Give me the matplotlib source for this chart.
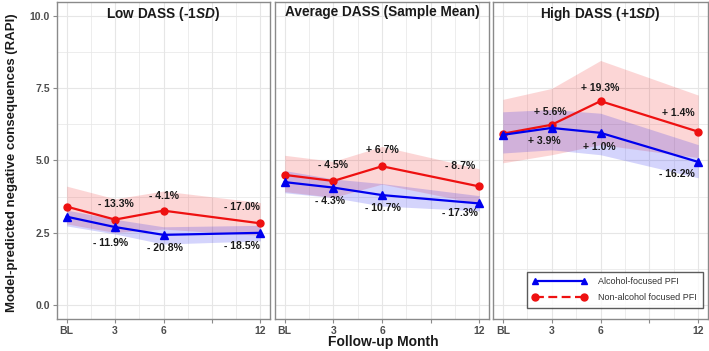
import matplotlib.pyplot as plt
from matplotlib.lines import Line2D

plt.rcParams['font.family'] = ['Liberation Sans', 'DejaVu Sans']
plt.rcParams['mathtext.fontset'] = 'custom'
plt.rcParams['mathtext.it'] = 'Liberation Sans:italic:bold'
plt.rcParams['mathtext.rm'] = 'Liberation Sans:bold'

# data
months = [0, 3, 6, 12]
tick_pos = [0, 3, 6, 9, 12]
tick_labels = ["BL", "3", "6", "", "12"]
titles = ["Low DASS (-1$\\mathit{SD}$)", "Average DASS (Sample Mean)", "High DASS (+1$\\mathit{SD}$)"]

alc_low = [3.05, 2.69, 2.42, 2.49]
alc_avg = [4.25, 4.06, 3.80, 3.51]
alc_high = [5.89, 6.13, 5.96, 4.95]
non_low = [3.40, 2.95, 3.26, 2.82]
non_avg = [4.50, 4.29, 4.80, 4.10]
non_high = [5.93, 6.24, 7.06, 6.00]

alc_low_ci = ([2.73, 2.45, 2.10, 2.21], [3.28, 2.96, 2.70, 2.75])
alc_avg_ci = ([3.88, 3.71, 3.42, 3.25], [4.65, 4.36, 4.20, 3.78])
alc_high_ci = ([5.26, 5.37, 5.20, 4.40], [6.69, 6.77, 6.64, 5.55])
non_low_ci = ([2.80, 2.50, 2.62, 2.40], [4.11, 3.67, 3.94, 3.54])
non_avg_ci = ([3.92, 3.72, 4.18, 3.50], [5.18, 4.97, 5.49, 4.71])
non_high_ci = ([4.92, 5.20, 5.55, 5.10], [7.12, 7.50, 8.47, 7.27])

alc_pct_low = ["- 11.9%", "- 20.8%", "- 18.5%"]
alc_pct_avg = ["- 4.3%", "- 10.7%", "- 17.3%"]
alc_pct_high = ["+ 3.9%", "+ 1.0%", "- 16.2%"]
non_pct_low = ["- 13.3%", "- 4.1%", "- 17.0%"]
non_pct_avg = ["- 4.5%", "+ 6.7%", "- 8.7%"]
non_pct_high = ["+ 5.6%", "+ 19.3%", "+ 1.4%"]

# label placement (x in months, y offset from the point)
alc_x = [[2.72, 6.09, 10.88], [2.8, 6.05, 10.78], [2.58, 5.93, 10.7]]
alc_dy = [[-0.55, -0.47, -0.45], [-0.46, -0.46, -0.34], [-0.46, -0.48, -0.43]]
non_x = [[3.06, 6.05, 10.88], [2.97, 6.05, 10.84], [2.89, 5.97, 10.8]]
non_dy = [[0.53, 0.51, 0.55], [0.55, 0.55, 0.71], [0.44, 0.44, 0.64]]

alc = [alc_low, alc_avg, alc_high]
non = [non_low, non_avg, non_high]
alc_ci = [alc_low_ci, alc_avg_ci, alc_high_ci]
non_ci = [non_low_ci, non_avg_ci, non_high_ci]
alc_pct = [alc_pct_low, alc_pct_avg, alc_pct_high]
non_pct = [non_pct_low, non_pct_avg, non_pct_high]

blue = "#0000ee"
red = "#ee1111"
grid_c = "#e6e6e6"
tick_c = "#4d4d4d"

fig = plt.figure(figsize=(7.09, 3.51), dpi=100)
lefts = [57, 275, 493]
widths = [213, 214, 215]
axes = []
for i in range(3):
    ax = fig.add_axes([lefts[i] / 709, 32 / 351, widths[i] / 709, 317 / 351])
    axes.append(ax)
    ax.set_xlim(-0.6, 12.6)
    ax.set_ylim(-0.5, 10.5)
    ax.set_xticks(tick_pos)
    ax.set_xticklabels(tick_labels)
    ax.set_xticks([1.5, 4.5, 7.5, 10.5], minor=True)
    ax.set_yticks([0, 2.5, 5, 7.5, 10])
    ax.set_yticks([1.25, 3.75, 6.25, 8.75], minor=True)
    ax.grid(True, which='major', color=grid_c, lw=0.8)
    ax.grid(True, which='minor', color=grid_c, lw=0.5)
    ax.set_axisbelow(True)
    for s in ax.spines.values():
        s.set_color("#8a8a8a")
        s.set_linewidth(1.0)
    ax.tick_params(which='minor', length=0)
    ax.tick_params(which='major', length=3, color="#8a8a8a", labelcolor=tick_c, labelsize=7.5, pad=2)
    for lab in ax.get_xticklabels() + ax.get_yticklabels():
        lab.set_fontweight('bold')
    if i == 0:
        ax.set_yticklabels(["0.0", "2.5", "5.0", "7.5", "10.0"])
    else:
        ax.tick_params(axis='y', left=False, labelleft=False)

    ax.fill_between(months, non_ci[i][0], non_ci[i][1], color=red, alpha=0.17, lw=0)
    ax.fill_between(months, alc_ci[i][0], alc_ci[i][1], color=blue, alpha=0.17, lw=0)
    ax.plot(months, non[i], color=red, lw=1.6, marker='o', ms=5)
    ax.plot(months, alc[i], color=blue, lw=1.6, marker='^', ms=5.5)

    for k in range(3):
        ax.text(non_x[i][k], non[i][k + 1] + non_dy[i][k], non_pct[i][k], ha='center', va='center',
                fontsize=7.5, fontweight='bold', color="#1a1a1a")
        ax.text(alc_x[i][k], alc[i][k + 1] + alc_dy[i][k], alc_pct[i][k], ha='center', va='center',
                fontsize=7.5, fontweight='bold', color="#1a1a1a")

    ax.text(0.5, 0.99, titles[i], transform=ax.transAxes, ha='center', va='top',
            fontsize=9.8, fontweight='bold', color="#1a1a1a")

handles = [
    Line2D([0], [0], color=blue, lw=1.6, marker='^', ms=5),
    Line2D([0], [0], color=red, lw=1.6, ls=(0, (4, 2)), marker='o', ms=5),
]
leg = axes[2].legend(handles, ["Alcohol-focused PFI", "Non-alcohol focused PFI"],
                     loc='lower right', bbox_to_anchor=(0.975, 0.035), fontsize=6.5,
                     numpoints=2, handlelength=6.0, frameon=True, fancybox=False,
                     edgecolor="#333333", borderpad=0.6, labelspacing=0.8, handletextpad=1.3,
                     borderaxespad=0)
leg.get_frame().set_linewidth(1.0)
for t in leg.get_texts():
    t.set_color("#333333")

fig.text(12 / 709, 1 - 162.5 / 351, "Model-predicted negative consequences (RAPI)", rotation=90,
         ha='center', va='center', fontsize=9.5, fontweight='bold', color="#1a1a1a")
fig.text(383 / 709, 1 - 342 / 351, "Follow-up Month", ha='center', va='center',
         fontsize=10, fontweight='bold', color="#1a1a1a")

fig.savefig("out.png", dpi=100)
